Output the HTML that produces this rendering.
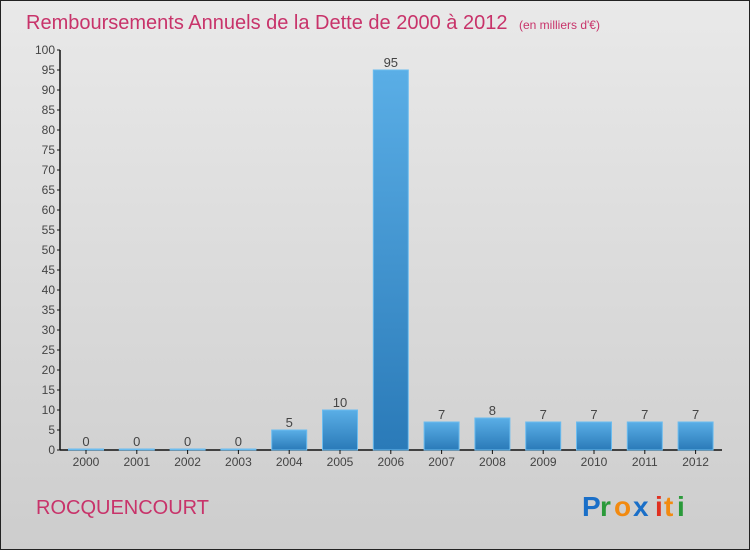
<!DOCTYPE html>
<html><head><meta charset="utf-8"><style>
body{margin:0;width:750px;height:550px;overflow:hidden}
svg{display:block;font-family:"Liberation Sans",sans-serif}
</style></head><body>
<svg width="750" height="550" xmlns="http://www.w3.org/2000/svg">
<defs>
<linearGradient id="bg" x1="0" y1="0" x2="0" y2="1"><stop offset="0" stop-color="#e9e9e9"/><stop offset="1" stop-color="#cdcdcd"/></linearGradient>
<linearGradient id="bar" x1="0" y1="0" x2="0" y2="1"><stop offset="0" stop-color="#5aaee6"/><stop offset="1" stop-color="#2a7ab8"/></linearGradient>
</defs>
<rect x="0.5" y="0.5" width="749" height="549" fill="url(#bg)" stroke="#222"/>
<text x="26" y="29" font-size="20" fill="#c8336a">Remboursements Annuels de la Dette de 2000 à 2012 <tspan font-size="12" dx="6">(en milliers d'€)</tspan></text>
<g id="yaxis"></g>
<g id="bars"></g>
<text x="36" y="514" font-size="20" fill="#c8336a">ROCQUENCOURT</text>
<g font-size="28" font-weight="bold">
<text x="582" y="516" fill="#1a6fc8">P</text><text x="600" y="516" fill="#2a9a3a">r</text><text x="614" y="516" fill="#f28a10">o</text><text x="633" y="516" fill="#1a6fc8">x</text><text x="655" y="516" fill="#e03020">i</text><text x="664" y="516" fill="#f28a10">t</text><text x="677" y="516" fill="#2a9a3a">i</text>
</g>
</svg>
<script>
const years=["2000","2001","2002","2003","2004","2005","2006","2007","2008","2009","2010","2011","2012"];
const values=[0,0,0,0,5,10,95,7,8,7,7,7,7];
const yTicks=[0,5,10,15,20,25,30,35,40,45,50,55,60,65,70,75,80,85,90,95,100];
const NS="http://www.w3.org/2000/svg";
const x0=86,step=50.8,bw=35;
const y=v=>450-v*4;
const xc=i=>x0+i*step;
function mk(t,a,p,txt){const e=document.createElementNS(NS,t);for(const k in a)e.setAttribute(k,a[k]);if(txt!==undefined)e.textContent=txt;p.appendChild(e);return e;}
const ya=document.getElementById('yaxis'),bg=document.getElementById('bars');
let l=mk('line',{x1:60,y1:y(100),x2:60,y2:450,stroke:'#111','stroke-width':1.5},ya);


l=mk('line',{x1:60,y1:450,x2:722,y2:450,stroke:'#111','stroke-width':1.5},ya);


yTicks.forEach(t=>{
 const tk=mk('line',{x1:57,y1:y(t),x2:60,y2:y(t),stroke:'#111'},ya);
 
 
 const tx=mk('text',{x:55,y:y(t)+4,'font-size':12,fill:'#444','text-anchor':'end'},ya,t);
 
 
});
years.forEach((yr,i)=>{
 const v=values[i],cx=xc(i);
 const h=Math.max(450-y(v),1);
 const r=mk('rect',{x:cx-bw/2,y:450-h,width:bw,height:h,fill:'url(#bar)',stroke:'#6bbcef','stroke-width':1},bg);
 
 
 const vl=mk('text',{x:cx,y:450-h-3,'font-size':13,fill:'#444','text-anchor':'middle'},bg,v);
 
 
 const tk=mk('line',{x1:cx,y1:450,x2:cx,y2:454,stroke:'#111'},bg);
 
 
 const xl=mk('text',{x:cx,y:466,'font-size':12,fill:'#444','text-anchor':'middle'},bg,yr);
 
 
});
</script>
</body></html>
